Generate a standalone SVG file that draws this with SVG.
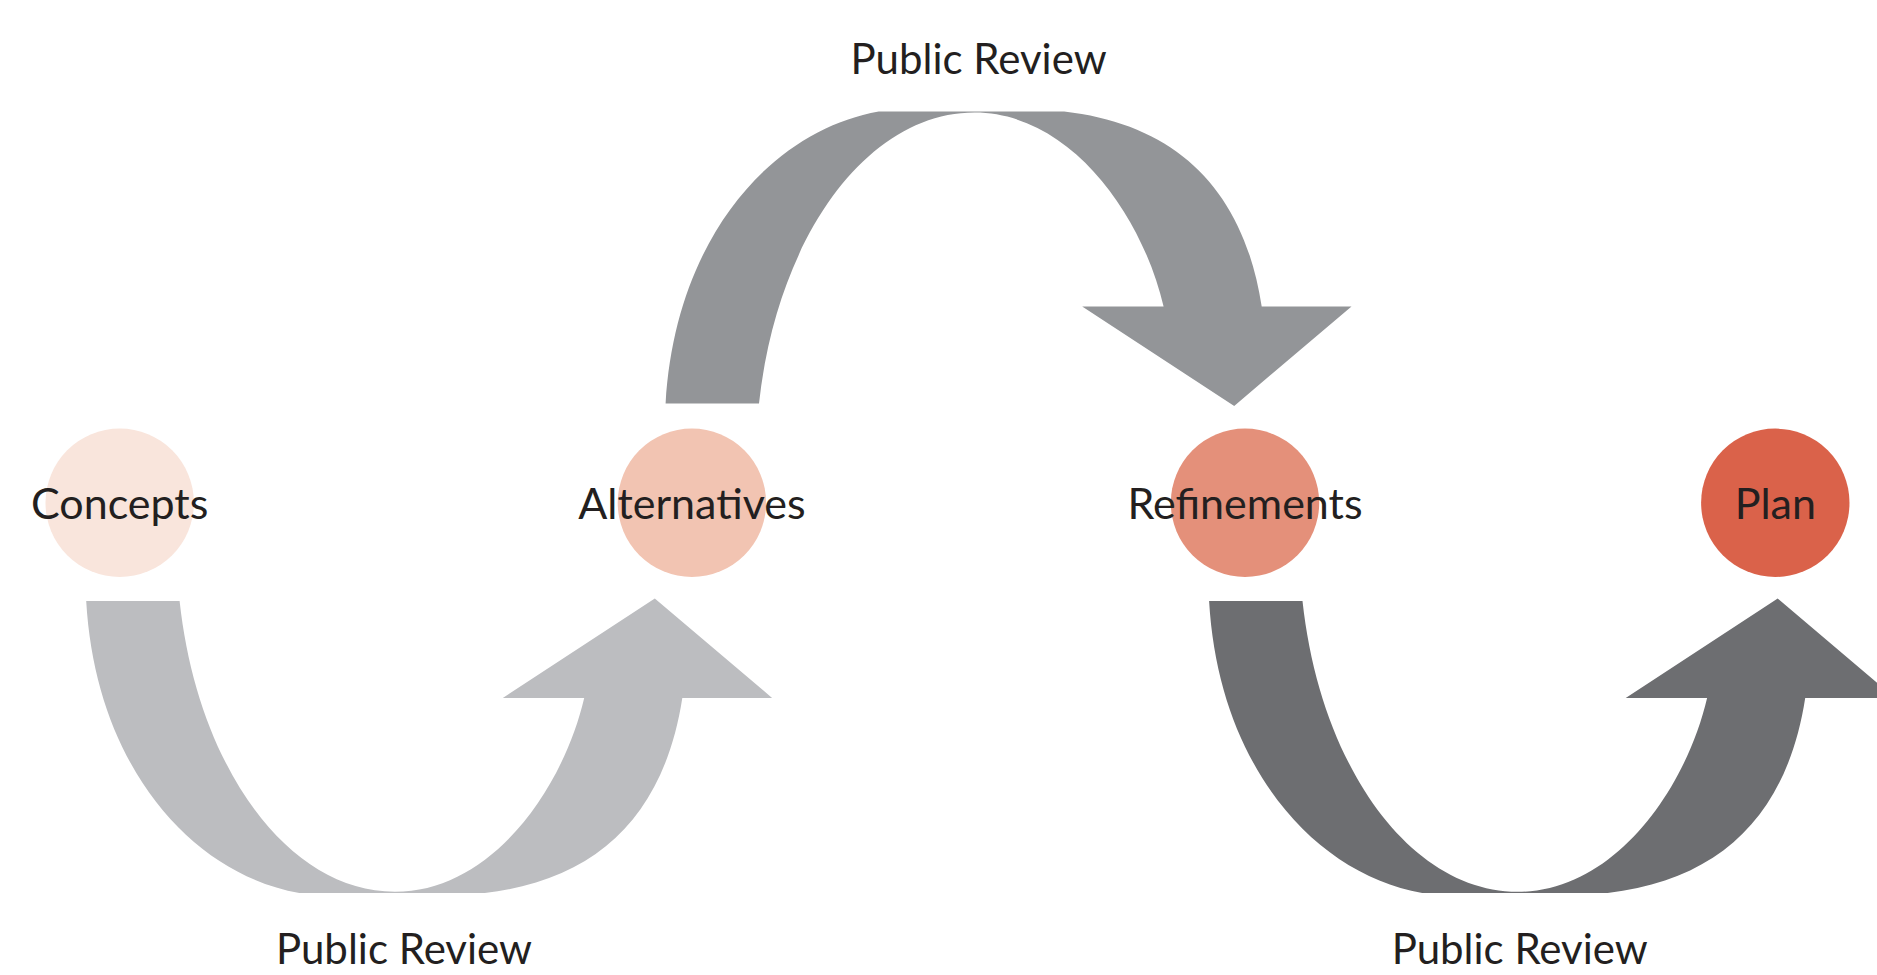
<svg xmlns="http://www.w3.org/2000/svg" xmlns:xlink="http://www.w3.org/1999/xlink" width="1877" height="975" viewBox="0 0 1877 975">
<style>
.lbl{font-family:Lato,"Open Sans","Liberation Sans",sans-serif;font-size:43px;fill:#231F20;text-anchor:middle}
.pr{font-size:42px}
</style>
<defs>
<path id="uarrow" d="M86.2,600.9 L179.6,600.9 C197.5,766.1 287.3,891.8 395.0,891.8 C490.8,891.8 562.6,790.1 584.2,697.9 L502.8,697.9 L654.8,598.5 L772.1,697.9 L682.3,697.9 C664.4,814.0 598.5,879.8 484.8,893.0 L299.3,893.0 C191.5,873.9 95.8,766.1 86.2,600.9 Z"/>
</defs>
<rect width="1877" height="975" fill="#FFFFFF"/>
<g id="connectors">
<use xlink:href="#uarrow" href="#uarrow" fill="#BCBDC0"/>
<use xlink:href="#uarrow" href="#uarrow" fill="#939598" transform="translate(579.4,1004.4) scale(1,-1)"/>
<use xlink:href="#uarrow" href="#uarrow" fill="#6D6E71" transform="translate(1122.9,0)"/>
<text class="lbl pr" x="978.6" y="74">Public Review</text>
<text class="lbl pr" x="404" y="964">Public Review</text>
<text class="lbl pr" x="1519.7" y="964">Public Review</text>
</g>
<g id="concepts">
<circle cx="119.7" cy="502.8" r="74.2" fill="#F9E5DC"/>
<text class="lbl" x="119.7" y="519">Concepts</text>
</g>
<g id="alternatives">
<circle cx="691.9" cy="502.8" r="74.2" fill="#F2C4B2"/>
<text class="lbl" x="691.9" y="519">Alternatives</text>
</g>
<g id="refinements">
<circle cx="1245" cy="502.8" r="74.2" fill="#E4907A"/>
<text class="lbl" x="1245" y="519">Refinements</text>
</g>
<g id="plan">
<circle cx="1775.3" cy="502.8" r="74.2" fill="#DA624A"/>
<text class="lbl" x="1775.3" y="519">Plan</text>
</g>
</svg>
